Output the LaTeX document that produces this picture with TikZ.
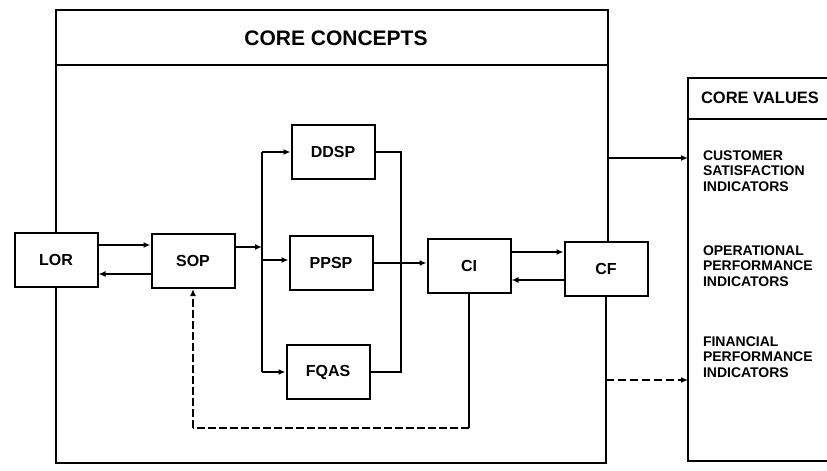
\documentclass[tikz,border=0pt]{standalone}
\usepackage{fontspec}
\setmainfont{Liberation Sans}
\usetikzlibrary{arrows.meta}
\begin{document}
\begin{tikzpicture}[x=1pt,y=-1pt,
  line width=2pt,
  box/.style={draw,minimum width=83pt,minimum height=54pt,inner sep=0pt,font=\bfseries\fontsize{16}{16}\selectfont},
  arr/.style={-{Latex[length=7pt,width=6pt]}},
  lbl/.style={align=left,anchor=west,font=\bfseries\fontsize{14}{15.5}\selectfont,inner sep=0pt},
  ttl/.style={font=\bfseries\fontsize{21}{21}\selectfont,inner sep=0pt}]
\useasboundingbox (0,0) rectangle (827,471);

% nodes
\node[box] (lor) at (56,260) {LOR};
\node[box] (sop) at (193,261) {SOP};
\node[box] (ddsp) at (333,152) {DDSP};
\node[box] (ppsp) at (331,263) {PPSP};
\node[box] (fqas) at (328,372) {FQAS};
\node[box] (ci) at (469,266) {CI};
\node[box] (cf) at (606,269) {CF};

% core concepts frame
\coordinate (ftl) at (56,10);
\coordinate (ftr) at (608,10);
\coordinate (fbl) at (56,463);
\coordinate (fbr) at (606,463);
\draw (lor.north) -- (ftl) -- (ftr) -- (cf.north -| ftr);
\draw (lor.south) -- (fbl) -- (fbr) -- (cf.south);
\coordinate (sepl) at (56,65);
\coordinate (sepr) at (608,65);
\draw (sepl) -- (sepr);
\node[ttl] (cc) at (336,38) {CORE CONCEPTS};

% core values box
\begin{scope}
\clip (0,0) rectangle (827,471);
\coordinate (cvtl) at (688,78);
\coordinate (cvbl) at (688,461);
\draw (850,78) -- (cvtl) -- (cvbl) -- (850,461);
\draw (688,119) -- (850,119);
\end{scope}
\node[ttl,anchor=west,font=\bfseries\fontsize{16.5}{16.5}\selectfont] (cv) at (700,98) {CORE VALUES};
\node[lbl] (csi) at (702,171) {CUSTOMER\\SATISFACTION\\INDICATORS};
\node[lbl] (opi) at (702,266) {OPERATIONAL\\PERFORMANCE\\INDICATORS};
\node[lbl] (fpi) at (702,357) {FINANCIAL\\PERFORMANCE\\INDICATORS};

% LOR <-> SOP
\draw[arr] (lor.east |- 0,245) -- (sop.west |- 0,245);
\draw[arr] (sop.west |- 0,274) -- (lor.east |- 0,274);

% SOP to left bus
\coordinate (bl) at (262,247);
\draw[arr] (sop.east |- bl) -- (bl);
\draw (ddsp.west -| bl) -- (fqas.west -| bl);
\draw[arr] (ddsp.west -| bl) -- (ddsp.west);
\draw[arr] (262,260) -- (ppsp.west |- 0,260);
\draw[arr] (fqas.west -| bl) -- (fqas.west);

% right bus to CI
\coordinate (br) at (401,263);
\draw (ddsp.east) -| (br);
\draw (fqas.east) -| (br);
\draw[arr] (ppsp.east) -- (ci.west |- ppsp.east);

% CI <-> CF
\draw[arr] (ci.east |- 0,252) -- (cf.west |- 0,252);
\draw[arr] (cf.west |- 0,280) -- (ci.east |- 0,280);

% feedback CI -> SOP
\coordinate (lb1) at (469,428);
\coordinate (lb2) at (193,428);
\draw (ci.south) -- (lb1);
\draw[dashed,dash pattern=on 8pt off 3pt] (lb1) -- (lb2);
\draw[arr,dashed,dash pattern=on 8pt off 3pt] (lb2) -- (sop.south);

% links to core values
\coordinate (cvin1) at (688,158);
\draw[arr] (ftr |- cvin1) -- (cvin1);
\coordinate (cvin2) at (688,380);
\draw[arr,dashed,dash pattern=on 8pt off 4pt] (fbr |- cvin2) -- (cvin2);
\end{tikzpicture}
\end{document}
